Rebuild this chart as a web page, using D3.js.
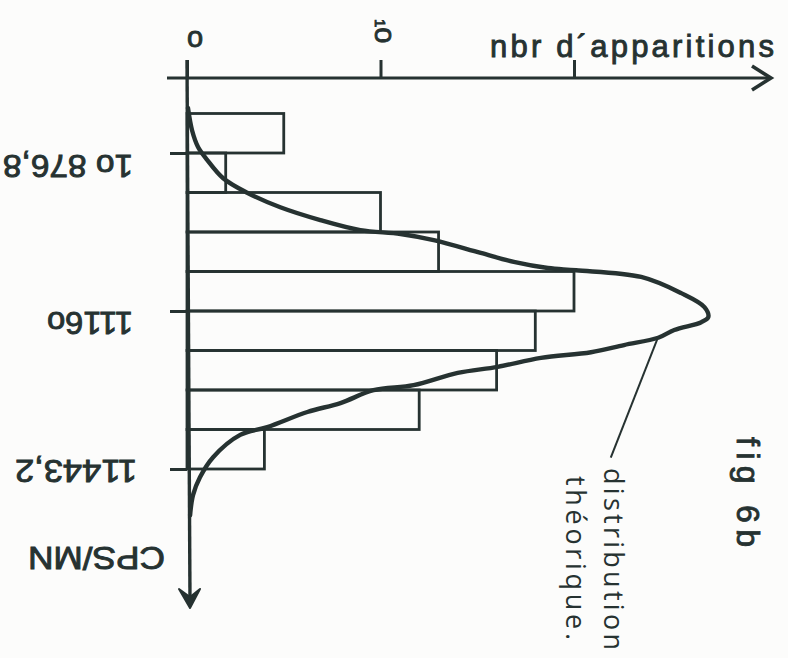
<!DOCTYPE html>
<html>
<head>
<meta charset="utf-8">
<script src="https://cdn.jsdelivr.net/npm/d3@7"></script>
<style>
  html, body { margin: 0; padding: 0; background: #fcfcfb; }
  svg { display: block; }
</style>
</head>
<body>
<svg id="chart" width="788" height="658"></svg>
<script>
// Class boundaries (CPS/MN) and number of occurrences in each class
const binEdges = [10806, 10876.8, 10947.6, 11018.4, 11089.2, 11160, 11230.8, 11301.6, 11372.4, 11443.2];
const counts = [5, 2, 10, 13, 20, 18, 16, 12, 4];

// Axis ticks and their hand-written labels
const cpsTicks = [10876.8, 11160, 11443.2];
const cpsTickLabels = ["1o 876,8", "1116o", "11443,2"];
const countTicks = [0, 10, 20];
const countTickLabels = ["o", "1o", ""];

// Theoretical distribution, points taken along the drawn curve
const curveCps = [10796, 10836, 10866, 10889, 10922, 10948, 10974, 10997, 11015, 11022,
  11033, 11056, 11072, 11083, 11087, 11099, 11128, 11153, 11171, 11180,
  11194, 11208, 11221, 11234, 11244, 11260, 11271, 11293, 11302, 11325,
  11341, 11368, 11382, 11422, 11458, 11490, 11526];
const curveCount = [0.05, 0.26, 0.57, 1.04, 1.87, 3.11, 4.82, 6.89, 8.96, 11.04,
  12.75, 15.18, 16.89, 18.65, 20.1, 23.47, 25.54, 26.74, 26.94, 26.58,
  25.18, 24.35, 22.59, 20.88, 18.29, 16.06, 13.99, 11.71, 9.64, 7.93,
  6.22, 4.15, 2.75, 1.35, 0.67, 0.31, 0.16];

const INK = "#263231";
const svg = d3.select("#chart");

// count runs to the right, CPS/MN runs downward
const x = d3.scaleLinear().domain([0, 20]).range([187, 574]);
const y = d3.scaleLinear().domain([10876.8, 11443.2]).range([153, 469]);

// ---- histogram bars
const bins = counts.map((c, i) => ({ c, lo: binEdges[i], hi: binEdges[i + 1] }));
svg.append("g")
  .selectAll("rect")
  .data(bins)
  .join("rect")
  .attr("x", x(0))
  .attr("y", d => y(d.lo))
  .attr("width", d => x(d.c) - x(0))
  .attr("height", d => y(d.hi) - y(d.lo))
  .attr("fill", "none")
  .attr("stroke", INK)
  .attr("stroke-width", 2.8);

// ---- theoretical curve
const pts = curveCps.map((v, i) => ({ cps: v, n: curveCount[i] }));
const line = d3.line()
  .x(d => x(d.n))
  .y(d => y(d.cps))
  .curve(d3.curveCatmullRom.alpha(0.5));
svg.append("path")
  .datum(pts)
  .attr("d", line)
  .attr("fill", "none")
  .attr("stroke", INK)
  .attr("stroke-width", 4.4)
  .attr("stroke-linecap", "round")
  .attr("stroke-linejoin", "round");

// ---- count axis (top)
const axisY = 78;
const topAxis = svg.append("g")
  .attr("transform", `translate(0,${axisY})`)
  .call(d3.axisTop(x).tickValues(countTicks).tickSize(18).tickFormat(""));
topAxis.select(".domain").remove();
topAxis.selectAll(".tick line").attr("stroke", INK).attr("stroke-width", 3);

svg.append("line")
  .attr("x1", 167).attr("y1", axisY).attr("x2", 770).attr("y2", axisY)
  .attr("stroke", INK).attr("stroke-width", 3.2);
svg.append("path")
  .attr("d", `M752,${axisY - 12} L771,${axisY} L752,${axisY + 12}`)
  .attr("fill", "none").attr("stroke", INK).attr("stroke-width", 3.6)
  .attr("stroke-linejoin", "miter");

// ---- CPS axis (left)
const leftAxis = svg.append("g")
  .attr("transform", `translate(${x(0)},0)`)
  .call(d3.axisLeft(y).tickValues(cpsTicks).tickSize(17).tickFormat(""));
leftAxis.select(".domain").remove();
leftAxis.selectAll(".tick line").attr("stroke", INK).attr("stroke-width", 3);

svg.append("line")
  .attr("x1", x(0)).attr("y1", 60).attr("x2", x(0) + 3).attr("y2", 600)
  .attr("stroke", INK).attr("stroke-width", 3.4);
svg.append("path")
  .attr("d", "M179,589 L190,608 L200,589 L190,597 Z")
  .attr("fill", INK).attr("stroke", INK).attr("stroke-width", 2)
  .attr("stroke-linejoin", "round");

// ---- labels
const font = "'Liberation Sans', Arial, sans-serif";
const bold = sel => sel.attr("stroke", INK).attr("stroke-width", 0.9).attr("fill", INK);

// count tick labels
svg.append("text")
  .attr("x", x(countTicks[0]) + 8).attr("y", 47)
  .attr("text-anchor", "middle")
  .attr("font-family", font).attr("font-size", 29)
  .call(bold)
  .text(countTickLabels[0]);

const ten = svg.append("text")
  .attr("transform", `translate(${x(countTicks[1]) - 6},19) rotate(90)`)
  .attr("font-family", font)
  .call(bold);
ten.append("tspan").attr("font-size", 15).text(countTickLabels[1][0]);
ten.append("tspan").attr("font-size", 29).text(countTickLabels[1].slice(1));

// axis title
svg.append("text")
  .attr("x", 490).attr("y", 57)
  .attr("font-family", font).attr("font-size", 31)
  .attr("textLength", 284).attr("lengthAdjust", "spacing")
  .call(bold)
  .text("nbr d\u00B4apparitions");

// CPS tick labels, written upside down
const labelRight = [133, 133, 137];
const labelTop = [155, 312, 460];
const labelLen = [130, 86, 122];
cpsTickLabels.forEach((t, i) => {
  svg.append("text")
    .attr("transform", `translate(${labelRight[i]},${labelTop[i]}) rotate(180)`)
    .attr("font-family", font).attr("font-size", 31)
    .attr("textLength", labelLen[i]).attr("lengthAdjust", "spacingAndGlyphs")
    .call(bold)
    .text(t);
});

svg.append("text")
  .attr("transform", "translate(165,547) rotate(180)")
  .attr("font-family", font).attr("font-size", 31)
  .attr("textLength", 137).attr("lengthAdjust", "spacingAndGlyphs")
  .call(bold)
  .text("CPS/MN");

// figure number
svg.append("text")
  .attr("transform", "translate(737,437) rotate(90)")
  .attr("font-family", font).attr("font-size", 32)
  .attr("textLength", 110).attr("lengthAdjust", "spacing")
  .call(bold)
  .text("fig 6b");

// annotation of the theoretical curve
const anchorPt = { cps: 11211, n: 24.3 };
const notePt = { cps: 11423, n: 21.9 };
svg.append("line")
  .attr("x1", x(anchorPt.n)).attr("y1", y(anchorPt.cps))
  .attr("x2", x(notePt.n)).attr("y2", y(notePt.cps))
  .attr("stroke", INK).attr("stroke-width", 2);

const hand = "'Open Sans', 'DejaVu Sans', sans-serif";
svg.append("text")
  .attr("transform", "translate(604,468) rotate(90)")
  .attr("font-family", hand).attr("font-size", 27).attr("font-weight", 400)
  .attr("textLength", 182).attr("lengthAdjust", "spacing")
  .attr("fill", INK)
  .text("distribution");
svg.append("text")
  .attr("transform", "translate(566,476) rotate(90)")
  .attr("font-family", hand).attr("font-size", 27).attr("font-weight", 400)
  .attr("textLength", 164).attr("lengthAdjust", "spacing")
  .attr("fill", INK)
  .text("th\u00E9orique.");
</script>
</body>
</html>
